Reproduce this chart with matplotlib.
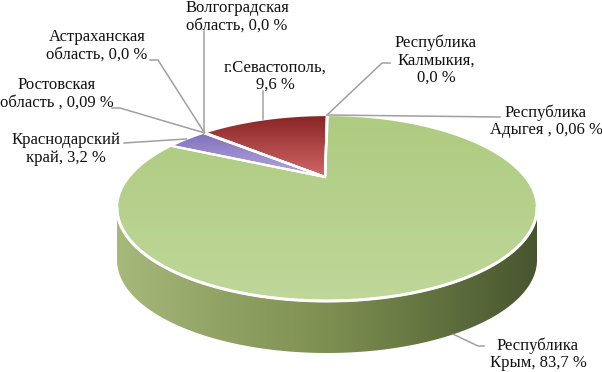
import numpy as np
import matplotlib
matplotlib.use("Agg")
import matplotlib.pyplot as plt
from matplotlib.patches import Polygon
from matplotlib.colors import LinearSegmentedColormap

# ---- data (counter-clockwise from 12 o'clock, as drawn) ----
regions = ["г.Севастополь", "Волгоградская\nобласть", "Астраханская\nобласть",
           "Ростовская\nобласть", "Краснодарский\nкрай", "Республика\nКрым",
           "Республика\nАдыгея", "Республика\nКалмыкия"]
values = [9.6, 0.0, 0.0, 0.09, 3.2, 83.7, 0.06, 0.0]
value_text = ["9,6 %", "0,0 %", "0,0 %", "0,09 %", "3,2 %", "83,7 %", "0,06 %", "0,0 %"]
label_text = ["г.Севастополь,\n9,6 %", "Волгоградская\nобласть, 0,0 %",
              "Астраханская\nобласть, 0,0 %", "Ростовская\nобласть , 0,09 %",
              "Краснодарский\nкрай, 3,2 %", "Республика\nКрым, 83,7 %",
              "Республика\nАдыгея , 0,06 %", "Республика\nКалмыкия,\n0,0 %"]

# ---- styling / layout ----
W, H = 602, 372
cx, cy, a, b, depth = 327, 208, 210, 93, 52
apex = (cx - 2, cy - 31)
font = ["Liberation Serif", "DejaVu Serif"]
fs = 12.0
lead_col = "#a0a0a0"

fig = plt.figure(figsize=(W / 100, H / 100), dpi=100)
ax = fig.add_axes([0, 0, 1, 1])
ax.set_xlim(0, W)
ax.set_ylim(H, 0)
ax.axis("off")


def rim(theta_deg, dy=0.0):
    t = np.radians(theta_deg)
    return np.column_stack([cx - a * np.sin(t), cy - b * np.cos(t) + dy])


def grad_fill(poly_xy, c0, c1, vertical=True, z=1):
    cmap = LinearSegmentedColormap.from_list("g", [c0, c1])
    x0, y0 = poly_xy.min(axis=0)
    x1, y1 = poly_xy.max(axis=0)
    g = np.linspace(0, 1, 256)
    img = g[:, None] * np.ones((1, 2)) if vertical else g[None, :] * np.ones((2, 1))
    im = ax.imshow(img, cmap=cmap, extent=(x0, x1, y1, y0), origin="upper",
                   aspect="auto", zorder=z, interpolation="bilinear")
    clip = Polygon(poly_xy, closed=True, facecolor="none", edgecolor="none")
    ax.add_patch(clip)
    im.set_clip_path(clip)


vals = np.array(values)
angles = np.concatenate([[0], np.cumsum(vals) / vals.sum() * 360])

# ---- side wall (front half, belongs to the big slice) ----
front = np.linspace(90, 270, 200)
wall = np.vstack([rim(front), rim(front[::-1], depth)])
wall_cmap = LinearSegmentedColormap.from_list(
    "w", ["#a6b97a", "#90a364", "#7d9052", "#63733f", "#48552f"])
x0, x1 = wall[:, 0].min(), wall[:, 0].max()
im = ax.imshow(np.linspace(0, 1, 256)[None, :] * np.ones((2, 1)), cmap=wall_cmap,
               extent=(x0, x1, wall[:, 1].max(), wall[:, 1].min()),
               aspect="auto", zorder=1, interpolation="bilinear")
wclip = Polygon(wall, closed=True, facecolor="none", edgecolor="none")
ax.add_patch(wclip)
im.set_clip_path(wclip)

# ---- top faces ----
colors = {0: ("#882424", "#d26868"), 4: ("#8070bc", "#b4a8de"), 5: ("#aecb80", "#bfd799")}
for i, v in enumerate(values):
    if v <= 0:
        continue
    th = np.linspace(angles[i], angles[i + 1], max(4, int((angles[i + 1] - angles[i]) * 2)))
    poly = np.vstack([[apex], rim(th)])
    c0, c1 = colors.get(i, ("#b0b0b0", "#d0d0d0"))
    if i == 5:
        poly = np.vstack([[apex], rim(np.linspace(angles[i], 360 + angles[0], 400))])
    grad_fill(poly, c0, c1, vertical=True, z=2)
    ax.add_patch(Polygon(poly, closed=True, facecolor="none", edgecolor="white",
                         lw=1.6, zorder=3, joinstyle="miter"))

# white rim edge between top face and wall
ax.plot(*rim(front).T, color="white", lw=2.2, zorder=3)

# ---- labels with leader lines ----
mid = (angles[:-1] + angles[1:]) / 2
text_pos = {0: (275, 76), 1: (237, 17), 2: (97, 46), 3: (57, 94), 4: (66, 149),
            5: (538, 354), 6: (546, 121), 7: (436, 60)}
elbow = {0: None, 1: None, 2: (150, 60), 3: (112, 108), 4: (124, 143),
         5: (484, 346), 6: (500, 117), 7: (390, 63)}
for i in range(len(values)):
    ang = mid[i]
    if i == 5:
        ang = 217
    anchor = rim([ang])[0]
    if i == 5:
        anchor = anchor + np.array([0, depth])
    tx, ty = text_pos[i]
    if i == 0:
        ax.plot([anchor[0], anchor[0]], [anchor[1], 91], color=lead_col, lw=1.1, zorder=4)
    elif i == 1:
        ax.plot([anchor[0], anchor[0]], [anchor[1], 31], color=lead_col, lw=1.1, zorder=4)
    else:
        ex, ey = elbow[i]
        sx = ex + (8 if ex < anchor[0] else -8)
        if i in (4, 6):
            ax.plot([ex, anchor[0]], [ey, anchor[1]], color=lead_col, lw=1.1, zorder=4)
        elif i == 5:
            ax.plot([anchor[0], ex - 6, ex], [anchor[1], ey, ey], color=lead_col, lw=1.1, zorder=4)
        else:
            ax.plot([ex, sx, anchor[0]], [ey, ey, anchor[1]], color=lead_col, lw=1.1, zorder=4)
    ax.text(tx, ty, label_text[i], ha="center", va="center", fontsize=fs,
            family=font, color="#111111", linespacing=1.1, zorder=5)

fig.savefig("out.png", dpi=100)
